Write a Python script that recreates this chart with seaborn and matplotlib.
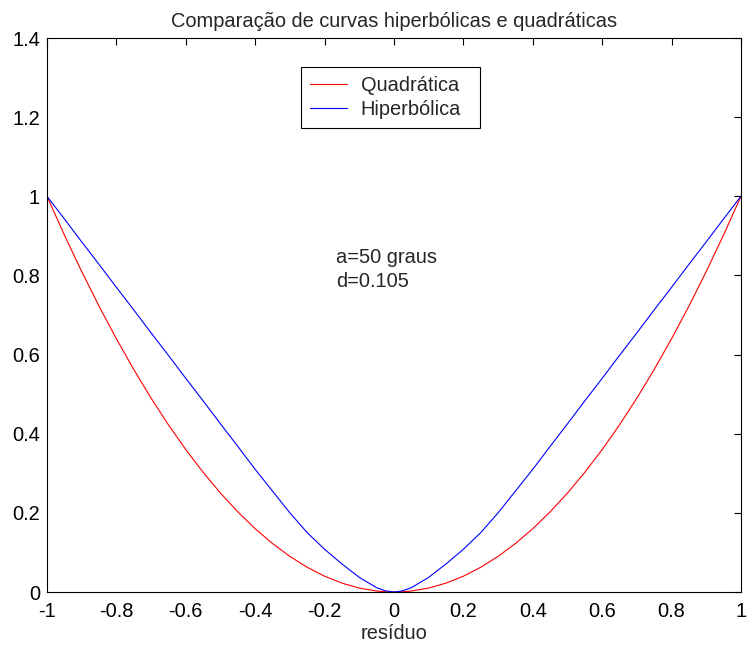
import numpy as np
import pandas as pd
import seaborn as sns
import matplotlib.pyplot as plt

# valores (residuo x custo)
residuo = [-1.0, -0.95, -0.9, -0.85, -0.8, -0.75, -0.7, -0.65, -0.6, -0.55, -0.5, -0.45, -0.4, -0.35,
           -0.3, -0.25, -0.2, -0.15, -0.1, -0.05, -0.025, 0.0,
           0.025, 0.05, 0.1, 0.15, 0.2, 0.25, 0.3, 0.35, 0.4, 0.45, 0.5, 0.55, 0.6, 0.65, 0.7, 0.75,
           0.8, 0.85, 0.9, 0.95, 1.0]
quadratica = [1.0, 0.9025, 0.81, 0.7225, 0.64, 0.5625, 0.49, 0.4225, 0.36, 0.3025, 0.25, 0.2025, 0.16, 0.1225,
              0.09, 0.0625, 0.04, 0.0225, 0.01, 0.0025, 0.0006, 0.0,
              0.0006, 0.0025, 0.01, 0.0225, 0.04, 0.0625, 0.09, 0.1225, 0.16, 0.2025, 0.25, 0.3025, 0.36,
              0.4225, 0.49, 0.5625, 0.64, 0.7225, 0.81, 0.9025, 1.0]
hiperbolica = [1.0, 0.943, 0.885, 0.828, 0.77, 0.713, 0.655, 0.598, 0.54, 0.483, 0.425, 0.368, 0.31, 0.255,
               0.2, 0.15, 0.108, 0.071, 0.037, 0.011, 0.003, 0.0,
               0.003, 0.011, 0.037, 0.071, 0.108, 0.15, 0.2, 0.255, 0.31, 0.368, 0.425, 0.483, 0.54,
               0.598, 0.655, 0.713, 0.77, 0.828, 0.885, 0.943, 1.0]

df = pd.DataFrame({'residuo': residuo * 2,
                   'custo': quadratica + hiperbolica,
                   'curva': ['Quadrática'] * len(residuo) + ['Hiperbólica'] * len(residuo)})

sns.set_style('white')
plt.rcParams['font.family'] = ['Liberation Sans', 'DejaVu Sans']
fs = 14.4

fig = plt.figure(figsize=(7.47, 6.49), dpi=100)
ax = fig.add_axes([0.0629, 0.0878, 0.929, 0.8536])

sns.lineplot(data=df, x='residuo', y='custo', hue='curva',
             palette={'Quadrática': '#ff0000', 'Hiperbólica': '#0000ff'},
             linewidth=0.8, ax=ax, sort=False, estimator=None)

ax.set_xlim(-1, 1)
ax.set_ylim(0, 1.4)
ax.set_xticks(np.arange(-1, 1.01, 0.2))
ax.set_xticklabels(['-1', '-0.8', '-0.6', '-0.4', '-0.2', '0', '0.2', '0.4', '0.6', '0.8', '1'])
ax.set_yticks(np.arange(0, 1.41, 0.2))
ax.set_yticklabels(['0', '0.2', '0.4', '0.6', '0.8', '1', '1.2', '1.4'])
ax.tick_params(direction='in', length=5, width=0.8, colors='black', labelsize=fs,
               top=True, right=True, pad=5)
ax.tick_params(axis='x', pad=7)
for s in ax.spines.values():
    s.set_color('black')
    s.set_linewidth(0.8)

ax.set_title('Comparação de curvas hiperbólicas e quadráticas', fontsize=fs, pad=8)
ax.set_xlabel('resíduo', fontsize=fs, labelpad=2)
ax.set_ylabel('')

ax.text(-0.167, 0.832, 'a=50 graus', fontsize=fs, va='baseline')
ax.text(-0.167, 0.772, 'd=0.105', fontsize=fs, va='baseline')

leg = ax.legend(loc='upper left', bbox_to_anchor=(0.3656, 0.844, 0.2584, 0.104), mode='expand',
                borderaxespad=0, fancybox=False, edgecolor='black', framealpha=1, fontsize=fs,
                handlelength=1.85, handletextpad=0.7, borderpad=0.45, labelspacing=0.25)
leg.get_frame().set_linewidth(0.8)

fig.savefig('out.png', dpi=100)
